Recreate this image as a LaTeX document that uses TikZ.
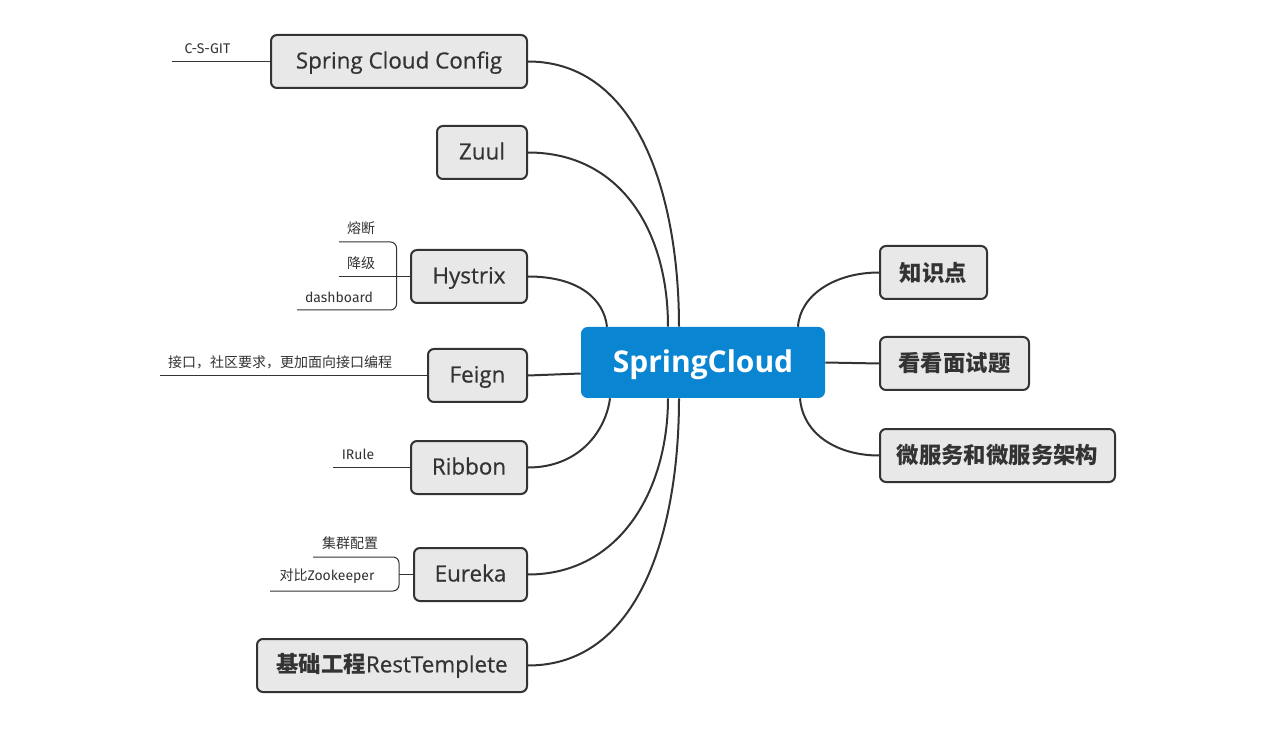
\documentclass[tikz,border=0pt]{standalone}
\usepackage{fontspec}
\setmainfont{Fira Sans}
\newfontfamily\cjk{Noto Sans CJK SC}
\newfontfamily\boxfont[FakeBold=0.6]{Open Sans}
\newfontfamily\rootfont{Open Sans}
\usetikzlibrary{calc}
\definecolor{boxfill}{HTML}{E8E8E8}
\definecolor{boxline}{HTML}{333333}
\definecolor{txt}{HTML}{333333}
\definecolor{blue}{HTML}{0A85D1}
\tikzset{
  mbox/.style={draw=boxline, fill=boxfill, rounded corners=4.5pt, line width=1.5pt,
    minimum height=53*0.75pt, inner sep=0pt, text=txt, font=\boxfont\fontsize{16.8}{20}\selectfont},
  lat/.style={text height=12.3pt, text depth=1.8pt},
  root/.style={fill=blue, rounded corners=5pt, minimum height=71*0.75pt, minimum width=244*0.75pt,
    inner sep=0pt, text=white, text height=17pt, text depth=2.4pt,
    font=\rootfont\fontsize{22.5}{27}\selectfont\bfseries},
  conn/.style={draw=boxline, line width=1.5pt},
  leafline/.style={draw=boxline, line width=0.75pt},
  leaf/.style={anchor=south, inner sep=0pt, text=txt, font=\fontsize{10.5}{12}\selectfont}
}
\begin{document}
\begin{tikzpicture}[x=0.75pt,y=-0.75pt]
\useasboundingbox (0,0) rectangle (1268,745);
% root
\node[root] (sc) at (703,362.5) {SpringCloud};
% left boxes
\node[mbox, lat, minimum width=256*0.75pt] (cfg) at (399,61.5) {Spring Cloud Config};
\node[mbox, lat, minimum width=90*0.75pt] (zuul) at (482,152.5) {Zuul};
\node[mbox, lat, minimum width=116*0.75pt] (hys) at (469,276.5) {Hystrix};
\node[mbox, lat, minimum width=99*0.75pt] (feign) at (477.5,375.5) {Feign};
\node[mbox, lat, minimum width=116*0.75pt] (rib) at (469,467.5) {Ribbon};
\node[mbox, lat, minimum width=113*0.75pt] (eur) at (470.5,574.5) {Eureka};
\node[mbox, minimum width=270*0.75pt] (base) at (392,665.5) {{\cjk\bfseries 基础工程}RestTemplete};
% right boxes
\node[mbox, minimum width=107*0.75pt] (zsd) at (933.5,272.5) {\cjk\bfseries 知识点};
\node[mbox, minimum width=149*0.75pt] (kk) at (954.5,363.5) {\cjk\bfseries 看看面试题};
\node[mbox, minimum width=235*0.75pt] (wfw) at (997.5,455.5) {\cjk\bfseries 微服务和微服务架构};
% main connectors
\draw[conn] (cfg.east) .. controls (640,61.5) and (679,200) .. ($(sc.north)+(-24,0)$);
\draw[conn] (zuul.east) .. controls (620,152.5) and (668,230) .. ($(sc.north)+(-35,0)$);
\draw[conn] (hys.east) .. controls (580,276.5) and (604,300) .. ($(sc.north)+(-96,0)$);
\draw[conn] (feign.east) -- ($(sc.west)+(0,11)$);
\draw[conn] (rib.east) .. controls (580,467.5) and (606,430) .. ($(sc.south)+(-93,0)$);
\draw[conn] (eur.east) .. controls (620,574.5) and (668,490) .. ($(sc.south)+(-35,0)$);
\draw[conn] (base.east) .. controls (640,665.5) and (679,530) .. ($(sc.south)+(-24,0)$);
\draw[conn] ($(sc.north)+(95,0)$) .. controls (800,295) and (835,272.5) .. (zsd.west);
\draw[conn] (sc.east) -- (kk.west);
\draw[conn] ($(sc.south)+(97,0)$) .. controls (803,435) and (838,455.5) .. (wfw.west);
% leaves: config
\coordinate (c1) at (172,61.5);
\draw[leafline] (c1) -- (cfg.west);
\node[leaf] (l1) at (207.5,53.5) {C-S-GIT};
% hystrix
\coordinate (h1) at (339,242);
\coordinate (h2) at (339,276.5);
\coordinate (h3) at (297,310);
\draw[leafline, rounded corners=4.5pt] (h1) -- (396.5,242) -- (396.5,310) -- (h3);
\draw[leafline] (h2) -- (hys.west);
\node[leaf] (l2) at (361,235) {\cjk 熔断};
\node[leaf] (l3) at (361,269.5) {\cjk 降级};
\node[leaf] (l4) at (339,303) {dashboard};
% feign
\coordinate (f1) at (160,375.5);
\draw[leafline] (f1) -- (feign.west);
\node[leaf] (l5) at (280,369) {\cjk 接口，社区要求，更加面向接口编程};
% ribbon
\coordinate (r1) at (333,467.5);
\draw[leafline] (r1) -- (rib.west);
\node[leaf] (l6) at (358,460) {IRule};
% eureka
\coordinate (e1) at (313,557);
\coordinate (e2) at (270,591);
\coordinate (e3) at (399,574.5);
\draw[leafline, rounded corners=4.5pt] (e1) -- (399,557) -- (399,591) -- (e2);
\draw[leafline] (e3) -- (eur.west);
\node[leaf] (l7) at (350,550) {\cjk 集群配置};
\node[leaf] (l8) at (327,584) {{\cjk 对比}Zookeeper};
\end{tikzpicture}
\end{document}
